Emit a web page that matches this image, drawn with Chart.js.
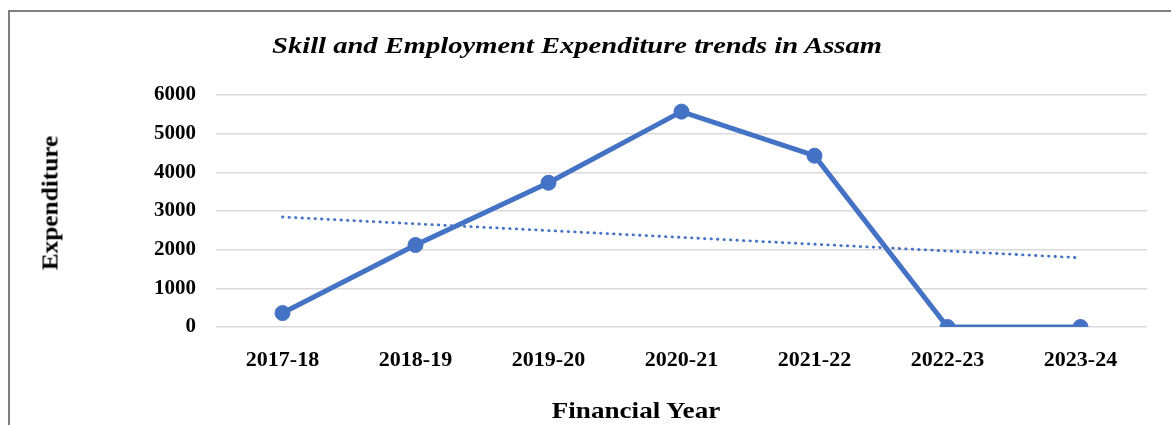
<!DOCTYPE html>
<html>
<head>
<meta charset="utf-8">
<script src="https://cdn.jsdelivr.net/npm/chart.js@4/dist/chart.umd.min.js"></script>
<style>
html,body{margin:0;padding:0;background:#fff;overflow:hidden;}
#wrap{position:relative;width:1171px;height:425px;overflow:hidden;}
#frame{position:absolute;left:8px;top:10px;width:1300px;height:600px;border:2px solid #7f7f7f;box-sizing:border-box;}
#c{position:absolute;left:0;top:0;}
.t{position:absolute;font-family:'Liberation Serif','Times New Roman',serif;font-weight:bold;color:#000;white-space:nowrap;line-height:1;}
#title{left:577px;top:45px;font-size:24px;font-style:italic;transform:translate(-50%,-50%) scaleX(1.19);}
#xt{left:636px;top:410px;font-size:24px;transform:translate(-50%,-50%) scaleX(1.13);}
#yt{left:50px;top:203px;font-size:23px;transform:translate(-50%,-50%) rotate(-90deg) scaleX(1.1);}
</style>
</head>
<body>
<div id="wrap">
  <div id="frame"></div>
  <canvas id="c" width="1171" height="425"></canvas>
  <div class="t" id="title">Skill and Employment Expenditure trends in Assam</div>
  <div class="t" id="yt">Expenditure</div>
  <div class="t" id="xt">Financial Year</div>
</div>
<script>
// Data
const categories = ['2017-18', '2018-19', '2019-20', '2020-21', '2021-22', '2022-23', '2023-24'];
const expenditure = [360, 2120, 3730, 5570, 4430, 0, 0];
// Linear trendline end values (first and last category)
const trendline = [2845, null, null, null, null, null, 1790];
const yTickValues = [0, 1000, 2000, 3000, 4000, 5000, 6000];

const serif = "'Liberation Serif','Times New Roman',serif";
const blue = '#4472C4';

new Chart(document.getElementById('c'), {
  type: 'line',
  data: {
    labels: categories,
    datasets: [
      {
        label: 'Expenditure',
        data: expenditure,
        borderColor: blue,
        backgroundColor: blue,
        borderWidth: 5,
        pointRadius: 7.5,
        pointBorderWidth: 1,
        pointBackgroundColor: blue,
        pointBorderColor: blue,
        tension: 0,
        order: 1
      },
      {
        label: 'Linear (Expenditure)',
        data: trendline,
        spanGaps: true,
        borderColor: blue,
        borderWidth: 2.8,
        borderDash: [0.5, 6],
        borderCapStyle: 'round',
        pointRadius: 0,
        fill: false,
        order: 2
      }
    ]
  },
  options: {
    responsive: false,
    animation: false,
    layout: { padding: { top: 95, right: 24, bottom: 0, left: 0 } },
    plugins: {
      legend: { display: false },
      title: { display: false },
      tooltip: { enabled: false }
    },
    scales: {
      x: {
        type: 'category',
        offset: true,
        grid: { display: false },
        border: { display: false },
        ticks: {
          color: '#000',
          font: { family: serif, size: 22, weight: 'bold' },
          padding: 12,
          maxRotation: 0,
          autoSkip: false
        },
        afterFit: s => { s.height = 98; }
      },
      y: {
        min: yTickValues[0],
        max: yTickValues[yTickValues.length - 1],
        afterBuildTicks: s => { s.ticks = yTickValues.map(v => ({ value: v })); },
        grid: { color: '#d9d9d9', lineWidth: 1.5, drawTicks: false },
        border: { display: false },
        ticks: {
          color: '#000',
          font: { family: serif, size: 21, weight: 'bold' },
          padding: 20,
          callback: v => String(v)
        },
        afterFit: s => { s.width = 216; }
      }
    }
  }
});
</script>
</body>
</html>
